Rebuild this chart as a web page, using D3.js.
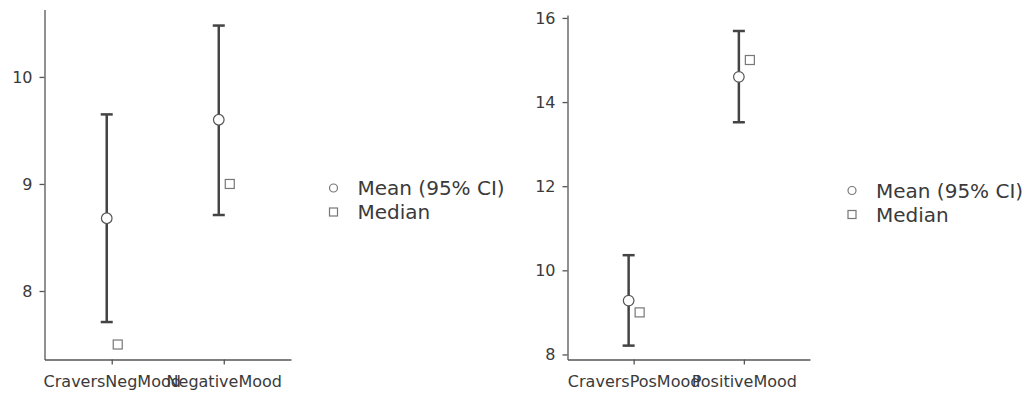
<!DOCTYPE html>
<html>
<head>
<meta charset="utf-8">
<script src="https://cdn.jsdelivr.net/npm/d3@7"></script>
<style>
  html, body { margin: 0; padding: 0; background: #fff; }
  svg { display: block; font-family: "DejaVu Sans", sans-serif; }
</style>
</head>
<body>
<svg id="chart" width="1028" height="394"></svg>
<script>
// ---- Data ----
const categoriesNeg = ["CraversNegMood", "NegativeMood"];
const meanNeg   = [8.68, 9.60];
const lowerNeg  = [7.71, 8.71];
const upperNeg  = [9.65, 10.48];
const medianNeg = [7.5, 9.0];
const ticksNeg  = [8, 9, 10];
const yDomainNeg = [7.36, 10.63];

const categoriesPos = ["CraversPosMood", "PositiveMood"];
const meanPos   = [9.28, 14.60];
const lowerPos  = [8.21, 13.52];
const upperPos  = [10.36, 15.69];
const medianPos = [9.0, 15.0];
const ticksPos  = [8, 10, 12, 14, 16];
const yDomainPos = [7.88, 16.07];

const legendLabels = ["Mean (95% CI)", "Median"];

// ---- Drawing ----
const svg = d3.select("#chart");
const textColor = "#3a3a3a";
const axisColor = "#555";

function panel(opts) {
  const g = svg.append("g");
  const x = d3.scalePoint().domain(opts.categories).range([opts.left, opts.right]).padding(0.6);
  const y = d3.scaleLinear().domain(opts.yDomain).range([opts.bottom, opts.top]);

  // y axis
  const yAxis = g.append("g")
    .attr("transform", `translate(${opts.left},0)`)
    .call(d3.axisLeft(y).tickValues(opts.ticks).tickSize(5).tickSizeOuter(0).tickPadding(7).tickFormat(d3.format("d")));
  // x axis
  const xAxis = g.append("g")
    .attr("transform", `translate(0,${opts.bottom})`)
    .call(d3.axisBottom(x).tickSize(5).tickSizeOuter(0).tickPadding(11));

  [yAxis, xAxis].forEach(a => {
    a.select(".domain").attr("stroke", axisColor).attr("stroke-width", 1.3);
    a.selectAll(".tick line").attr("stroke", axisColor).attr("stroke-width", 1.3);
    a.selectAll(".tick text").attr("fill", textColor).attr("font-size", 16)
      .attr("font-family", "DejaVu Sans, sans-serif");
  });

  const idx = opts.categories.map((c, i) => i);
  const mx = i => x(opts.categories[i]) - 5;
  const dx = i => x(opts.categories[i]) + 6;

  // error bars
  const eb = g.append("g").attr("stroke", "#444").attr("stroke-width", 2.5);
  eb.selectAll("line.v").data(idx).join("line").attr("class", "v")
    .attr("x1", mx).attr("x2", mx)
    .attr("y1", i => y(opts.lower[i])).attr("y2", i => y(opts.upper[i]));
  eb.selectAll("line.u").data(idx).join("line").attr("class", "u")
    .attr("x1", i => mx(i) - 6).attr("x2", i => mx(i) + 6)
    .attr("y1", i => y(opts.upper[i])).attr("y2", i => y(opts.upper[i]));
  eb.selectAll("line.l").data(idx).join("line").attr("class", "l")
    .attr("x1", i => mx(i) - 6).attr("x2", i => mx(i) + 6)
    .attr("y1", i => y(opts.lower[i])).attr("y2", i => y(opts.lower[i]));

  // medians
  g.selectAll("rect.med").data(idx).join("rect").attr("class", "med")
    .attr("x", i => dx(i) - 4.5).attr("y", i => y(opts.median[i]) - 4.5)
    .attr("width", 9).attr("height", 9)
    .attr("fill", "#fff").attr("stroke", "#777").attr("stroke-width", 1.2);

  // means
  g.selectAll("circle.mean").data(idx).join("circle").attr("class", "mean")
    .attr("cx", mx).attr("cy", i => y(opts.mean[i])).attr("r", 5.3)
    .attr("fill", "#fff").attr("stroke", "#555").attr("stroke-width", 1.2);

  // legend
  const lg = g.append("g");
  const ly = opts.legendY;
  lg.append("circle").attr("cx", opts.legendX).attr("cy", ly).attr("r", 4)
    .attr("fill", "#fff").attr("stroke", "#777").attr("stroke-width", 1.2);
  lg.append("rect").attr("x", opts.legendX - 4).attr("y", ly + 24 - 4).attr("width", 8).attr("height", 8)
    .attr("fill", "#fff").attr("stroke", "#777").attr("stroke-width", 1.2);
  lg.selectAll("text").data(legendLabels).join("text")
    .attr("x", opts.legendX + 24).attr("y", (d, i) => ly + i * 24)
    .attr("dy", "0.36em").attr("font-size", 20).attr("fill", textColor)
    .text(d => d);
}

panel({
  categories: categoriesNeg, mean: meanNeg, lower: lowerNeg, upper: upperNeg, median: medianNeg,
  ticks: ticksNeg, yDomain: yDomainNeg,
  left: 44.5, right: 291, top: 9.5, bottom: 359.5,
  legendX: 333.5, legendY: 188
});

panel({
  categories: categoriesPos, mean: meanPos, lower: lowerPos, upper: upperPos, median: medianPos,
  ticks: ticksPos, yDomain: yDomainPos,
  left: 567.5, right: 810, top: 15, bottom: 359.5,
  legendX: 852, legendY: 190.5
});
</script>
</body>
</html>
